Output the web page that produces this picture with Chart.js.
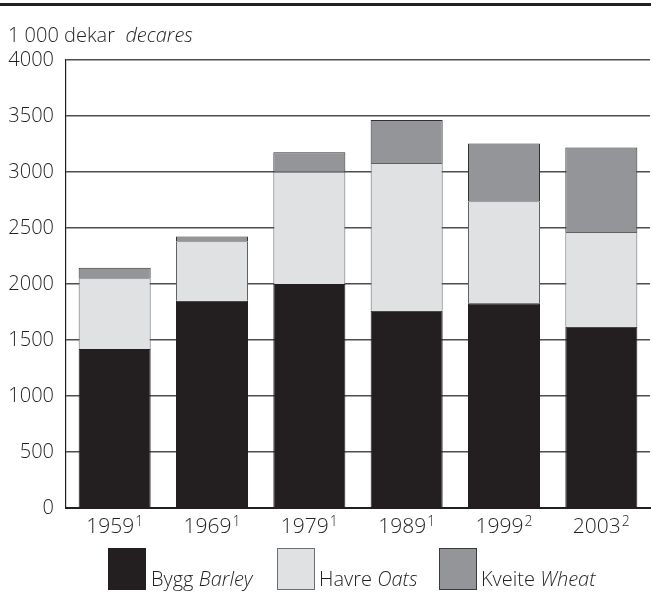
<!DOCTYPE html>
<html>
<head>
<meta charset="utf-8">
<script src="https://cdn.jsdelivr.net/npm/chart.js@4/dist/chart.umd.min.js"></script>
<style>
  html, body { margin: 0; padding: 0; background: #fff; }
  body { width: 651px; height: 593px; position: relative; overflow: hidden; font-family: "Open Sans", sans-serif; font-weight: 300; color: #231f20; }
  #rule { position: absolute; left: 0; top: 3px; width: 651px; height: 3px; background: #231f20; }
  #wrap { position: absolute; left: 0; top: 0; width: 651px; height: 593px; }
  #ytitle { position: absolute; left: 8px; top: 24px; font-size: 20px; line-height: 22px; white-space: pre; }
  .lg { position: absolute; top: 548px; height: 42px; width: 38px; box-sizing: border-box; border: 1px solid #231f20; }
  .lt { position: absolute; top: 568px; font-size: 20px; line-height: 22px; white-space: pre; }
  i { font-style: italic; }
</style>
</head>
<body>
<div id="rule"></div>
<div id="wrap"><canvas id="c" width="651" height="593"></canvas></div>
<div id="ytitle">1 000 dekar  <i>decares</i></div>
<div class="lg" style="left:108px;background:#231f20;"></div>
<div class="lt" style="left:151px;">Bygg <i>Barley</i></div>
<div class="lg" style="left:277px;background:#e0e1e3;border-color:#6d6e71;"></div>
<div class="lt" style="left:319px;">Havre <i>Oats</i></div>
<div class="lg" style="left:439px;background:#939598;border-color:#3a3a3a;"></div>
<div class="lt" style="left:481px;">Kveite <i>Wheat</i></div>
<script>
const categories = ["1959", "1969", "1979", "1989", "1999", "2003"];
const footnotes = ["1", "1", "1", "1", "2", "2"];
const barley = [1420, 1850, 2000, 1762, 1828, 1619];
const oats = [631, 531, 1003, 1318, 910, 845];
const wheat = [95, 42, 173, 384, 516, 754];
const yTicks = [0, 500, 1000, 1500, 2000, 2500, 3000, 3500, 4000];

const fontFamily = '"Open Sans", sans-serif';

const supLabels = {
  id: 'supLabels',
  afterDraw(chart) {
    const ctx = chart.ctx;
    const xs = chart.scales.x;
    ctx.save();
    ctx.fillStyle = '#231f20';
    ctx.textBaseline = 'alphabetic';
    ctx.textAlign = 'left';
    const mainFont = '300 21px ' + fontFamily;
    const supFont = '300 14px ' + fontFamily;
    const baseY = xs.top + 25;
    categories.forEach((lab, i) => {
      const x = xs.getPixelForTick(i);
      ctx.font = mainFont;
      const w1 = ctx.measureText(lab).width;
      ctx.font = supFont;
      const w2 = ctx.measureText(footnotes[i]).width;
      const start = x - (w1 + 1 + w2) / 2;
      ctx.font = mainFont;
      ctx.fillText(lab, start, baseY);
      ctx.font = supFont;
      ctx.fillText(footnotes[i], start + w1 + 1, baseY - 7);
    });
    ctx.restore();
  }
};

new Chart(document.getElementById('c'), {
  type: 'bar',
  data: {
    labels: categories,
    datasets: [
      { label: 'Bygg Barley', data: barley, backgroundColor: '#231f20', borderColor: '#231f20', borderWidth: 1 },
      { label: 'Havre Oats', data: oats, backgroundColor: '#e0e1e3', borderColor: '#5f6062', borderWidth: 1 },
      { label: 'Kveite Wheat', data: wheat, backgroundColor: '#939598', borderColor: '#2f2f2f', borderWidth: 1 }
    ]
  },
  plugins: [supLabels],
  options: {
    responsive: false,
    animation: false,
    devicePixelRatio: 1,
    layout: { padding: { top: 60, left: 0, right: 1, bottom: 55 } },
    plugins: { legend: { display: false }, tooltip: { enabled: false }, title: { display: false } },
    datasets: { bar: { categoryPercentage: 0.74, barPercentage: 1.0 } },
    scales: {
      x: {
        stacked: true,
        grid: { display: false, drawTicks: false },
        border: { display: true, color: '#231f20', width: 2 },
        ticks: { color: 'rgba(0,0,0,0)', font: { family: fontFamily, size: 19 }, padding: 4, maxRotation: 0 },
        afterFit: (s) => { s.height = 30; }
      },
      y: {
        stacked: true,
        min: 0, max: 4000,
        afterBuildTicks: (s) => { s.ticks = yTicks.map(v => ({ value: v })); },
        grid: { color: '#4d4d4f', lineWidth: 1.6, drawTicks: false },
        border: { display: true, color: '#231f20', width: 1.2 },
        ticks: { color: '#231f20', font: { family: fontFamily, size: 20, weight: '300' }, padding: 12, callback: (v) => String(v) },
        afterFit: (s) => { s.width = 66; }
      }
    }
  }
});
</script>
</body>
</html>
